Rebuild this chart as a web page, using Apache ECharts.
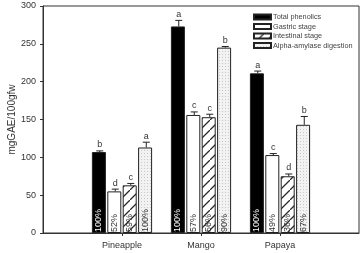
<!DOCTYPE html>
<html><head><meta charset="utf-8">
<script src="https://cdn.jsdelivr.net/npm/echarts@6/dist/echarts.min.js"></script>
<style>html,body{margin:0;padding:0;background:#fff}#c{width:363px;height:253px}</style>
</head><body><div id="c"></div>
<script>
const categories = ['', 'Pineapple', 'Mango', 'Papaya', ''];
const seriesNames = ['Total phenolics', 'Gastric stage', 'Intestinal stage', 'Alpha-amylase digestion'];
const totalPhenolics = [107, 273, 211];
const gastricStage = [55, 156, 103];
const intestinalStage = [63, 153, 75];
const alphaAmylase = [113, 245, 143];
const totalErr = [1.5, 8, 3];
const gastricErr = [3, 4, 2];
const intestinalErr = [2.5, 4, 3];
const alphaErr = [7, 1.5, 11];
const totalLetters = ['b', 'a', 'a'];
const gastricLetters = ['d', 'c', 'c'];
const intestinalLetters = ['c', 'c', 'd'];
const alphaLetters = ['a', 'b', 'b'];
const totalPct = ['100%', '100%', '100%'];
const gastricPct = ['52%', '57%', '49%'];
const intestinalPct = ['59%', '56%', '36%'];
const alphaPct = ['100%', '90%', '67%'];
const yTicks = [0, 50, 100, 150, 200, 250, 300];

function hatch() {
  const n = 10;
  const c = document.createElement('canvas'); c.width = n; c.height = n;
  const g = c.getContext('2d'); g.fillStyle = '#fff'; g.fillRect(0, 0, n, n);
  g.strokeStyle = '#2a2a2a'; g.lineWidth = 1.3;
  g.beginPath();
  g.moveTo(-1, n + 1); g.lineTo(n + 1, -1);
  g.moveTo(-n - 1, 1); g.lineTo(1, -n - 1);
  g.moveTo(n - 1, 2 * n + 1); g.lineTo(2 * n + 1, n - 1);
  g.stroke();
  return c;
}
function dots() {
  const c = document.createElement('canvas'); c.width = 3; c.height = 3;
  const g = c.getContext('2d'); g.fillStyle = '#f2f2f2'; g.fillRect(0, 0, 3, 3);
  g.fillStyle = '#c8c8c8'; g.fillRect(0, 0, 1, 1);
  return c;
}
const fills = ['#000', '#fff', { image: hatch(), repeat: 'repeat' }, { image: dots(), repeat: 'repeat' }];
const values = [totalPhenolics, gastricStage, intestinalStage, alphaAmylase];
const errs = [totalErr, gastricErr, intestinalErr, alphaErr];
const letters = [totalLetters, gastricLetters, intestinalLetters, alphaLetters];
const pcts = [totalPct, gastricPct, intestinalPct, alphaPct];
const BW = 14, GAP = 1.5;
const offsets = [0, 1, 2, 3].map(i => (i - 1.5) * (BW + GAP) + 1);

const series = values.map((v, s) => ({
  name: seriesNames[s], type: 'bar', barWidth: BW, barGap: '10%',
  data: [null].concat(v.map((x, i) => ({ value: x, pct: pcts[s][i] }))).concat([null]),
  itemStyle: { color: fills[s], borderColor: '#222', borderWidth: 1 },
  label: {
    show: true, position: 'insideBottom', rotate: 90, align: 'left', verticalAlign: 'middle',
    distance: 1, fontSize: 9, fontFamily: 'Liberation Sans, Arial', color: s === 0 ? '#fff' : '#333',
    formatter: p => p.data ? p.data.pct : ''
  },
  z: 2
}));
series.push({
  type: 'custom', silent: true, z: 5,
  data: [0, 1, 2].flatMap(i => [0, 1, 2, 3].map(s => [i + 1, values[s][i], errs[s][i], s])),
  renderItem: (params, api) => {
    const cat = api.value(0), val = api.value(1), e = api.value(2), s = api.value(3);
    const p0 = api.coord([cat, val]), p1 = api.coord([cat, val + e]);
    const x = p0[0] + offsets[s];
    const txt = letters[s][cat - 1];
    return { type: 'group', children: [
      { type: 'line', shape: { x1: x, y1: p0[1], x2: x, y2: p1[1] }, style: { stroke: '#222', lineWidth: 1 } },
      { type: 'line', shape: { x1: x - 3.5, y1: p1[1], x2: x + 3.5, y2: p1[1] }, style: { stroke: '#222', lineWidth: 1 } },
      { type: 'text', style: { text: txt, x: x, y: p1[1] - 1.5, align: 'center', verticalAlign: 'bottom', fontSize: 9, fontFamily: 'Liberation Sans, Arial', fill: '#333' } }
    ] };
  }
});

const chart = echarts.init(document.getElementById('c'));
chart.setOption({
  animation: false,
  grid: { left: 43, top: 6, right: 4, bottom: 20, show: true, borderColor: '#333', borderWidth: 1, containLabel: false, outerBoundsMode: 'none' },
  legend: {
    data: seriesNames, orient: 'vertical', left: 253, top: 13, padding: 0, icon: 'rect', itemWidth: 17, itemHeight: 5,
    itemGap: 1.5, textStyle: { fontSize: 7.3, lineHeight: 8, color: '#444', fontFamily: 'Liberation Sans, Arial', padding: [0, 0, 0, -3] }
  },
  xAxis: {
    type: 'category', data: categories, boundaryGap: false,
    axisLine: { lineStyle: { color: '#333' } },
    axisTick: { length: 3, interval: (i) => i >= 1 && i <= 3, lineStyle: { color: '#333' } },
    axisLabel: { interval: 0, fontSize: 9, color: '#333', fontFamily: 'Liberation Sans, Arial', margin: 8 },
    splitLine: { show: false }
  },
  yAxis: {
    type: 'value', min: yTicks[0], max: yTicks[yTicks.length - 1], interval: 50,
    name: 'mgGAE/100gfw', nameLocation: 'middle', nameGap: 26, nameRotate: 90, nameMoveOverlap: false,
    nameTextStyle: { fontSize: 10, color: '#333', fontFamily: 'Liberation Sans, Arial' },
    axisLine: { show: true, lineStyle: { color: '#333' } },
    axisTick: { show: true, length: 3, lineStyle: { color: '#333' } },
    axisLabel: { fontSize: 9, color: '#333', fontFamily: 'Liberation Sans, Arial', margin: 7 },
    splitLine: { show: false }
  },
  series: series
});
</script></body></html>
